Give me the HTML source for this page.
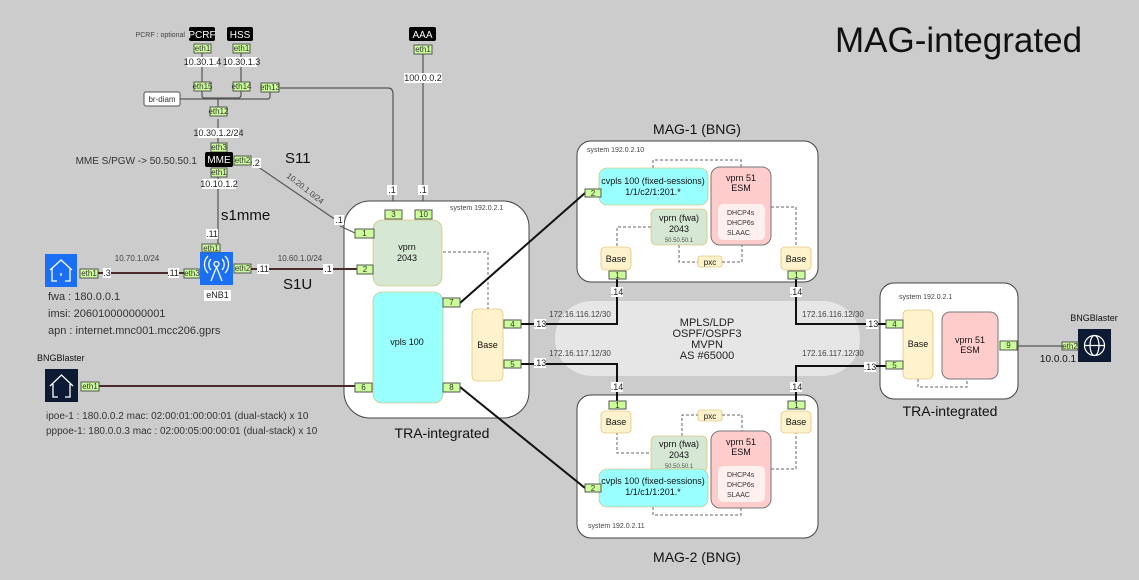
<!DOCTYPE html>
<html><head><meta charset="utf-8"><style>
html,body{margin:0;padding:0;background:#cccccc;}
svg{display:block;font-family:"Liberation Sans",sans-serif;}
.p{fill:#ccff99;stroke:#555;stroke-width:1;}
.pt{font-size:8px;fill:#333;text-anchor:middle;}
.lb{fill:#fff;}
.lt{font-size:9px;fill:#222;text-anchor:middle;}
.d{fill:none;stroke:#666;stroke-width:1;stroke-dasharray:3,2;}
.br{stroke:#4a2a2a;stroke-width:2;fill:none;}
.bk{stroke:#111;stroke-width:2;fill:none;}
.gl{stroke:#555;stroke-width:1.2;fill:none;}
</style></head><body>
<svg width="1139" height="580" viewBox="0 0 1139 580" xmlns="http://www.w3.org/2000/svg">
<rect width="1139" height="580" fill="#cccccc"/>
<text x="835" y="52" font-size="35" fill="#111">MAG-integrated</text>

<!-- cloud -->
<rect x="555" y="301" width="305" height="75" rx="37" fill="#e6e6e6"/>
<g font-size="11" fill="#222" text-anchor="middle">
<text x="707" y="326">MPLS/LDP</text><text x="707" y="337">OSPF/OSPF3</text><text x="707" y="348">MVPN</text><text x="707" y="359">AS #65000</text></g>

<!-- top connections -->
<path class="gl" d="M202,53 V90 M241,53 V90 M202,90 V96 Q202,98 205,98 H238 Q241,98 241,95 V90 M144,99 H268 Q270,99 270,96 V90 M218,99 V111 M218,119 V147 M218,176 V245"/>
<path class="gl" d="M280,88 H388 Q393,88 393,94 V210"/>
<path class="gl" d="M423,53 V210"/>
<path class="gl" d="M251,162 L355,233"/>

<!-- PCRF HSS AAA -->
<text x="185" y="37" font-size="7" fill="#444" text-anchor="end">PCRF : optional</text>
<rect x="189" y="27" width="26" height="14" rx="2" fill="#000"/><text x="202" y="38" font-size="10" fill="#fff" text-anchor="middle">PCRF</text>
<rect x="227" y="27" width="26" height="14" rx="2" fill="#000"/><text x="240" y="38" font-size="10" fill="#fff" text-anchor="middle">HSS</text>
<rect x="409" y="27" width="27" height="14" rx="2" fill="#000"/><text x="422.5" y="38" font-size="10" fill="#fff" text-anchor="middle">AAA</text>
<rect class="p" x="194" y="44" width="17" height="9"/><text class="pt" x="202.5" y="51">eth1</text>
<rect class="p" x="233" y="44" width="17" height="9"/><text class="pt" x="241.5" y="51">eth1</text>
<rect class="p" x="414" y="45" width="18" height="9"/><text class="pt" x="423" y="52">eth1</text>
<rect class="lb" x="187" y="57" width="31" height="10"/><text class="lt" x="202.5" y="65">10.30.1.4</text>
<rect class="lb" x="226" y="57" width="31" height="10"/><text class="lt" x="241.5" y="65">10.30.1.3</text>
<rect class="lb" x="404" y="73" width="38" height="10"/><text class="lt" x="423" y="81">100.0.0.2</text>
<rect class="p" x="194" y="82" width="17" height="9"/><text class="pt" x="202.5" y="89">eth15</text>
<rect class="p" x="233" y="82" width="17" height="9"/><text class="pt" x="241.5" y="89">eth14</text>
<rect class="p" x="261" y="83" width="18" height="9"/><text class="pt" x="270" y="90">eth13</text>
<rect x="144" y="92" width="36" height="14" rx="2" fill="#fff" stroke="#555"/><text x="162" y="102" font-size="8" fill="#333" text-anchor="middle">br-diam</text>
<rect class="p" x="210" y="107" width="17" height="9"/><text class="pt" x="218.5" y="114">eth12</text>
<rect class="lb" x="198" y="128" width="41" height="10"/><text class="lt" x="218.5" y="136">10.30.1.2/24</text>
<rect class="p" x="211" y="143" width="16" height="9"/><text class="pt" x="219" y="150">eth3</text>
<rect x="205" y="152" width="28" height="15" rx="2" fill="#000"/><text x="219" y="163" font-size="10" fill="#fff" text-anchor="middle">MME</text>
<rect class="p" x="234" y="156" width="17" height="9"/><text class="pt" x="242.5" y="163">eth2</text>
<rect class="lb" x="252" y="158" width="9" height="10"/><text class="lt" x="256" y="166">.2</text>
<rect class="p" x="211" y="168" width="16" height="9"/><text class="pt" x="219" y="175">eth1</text>
<rect class="lb" x="202" y="179" width="34" height="10"/><text class="lt" x="219" y="187">10.10.1.2</text>
<text x="197" y="164" font-size="10" fill="#333" text-anchor="end">MME S/PGW -&gt; 50.50.50.1</text>
<text x="285" y="163" font-size="15" fill="#111">S11</text>
<text x="285" y="180" font-size="8" fill="#444" transform="rotate(38 290 180)">10.20.1.0/24</text>
<text x="221" y="220" font-size="15" fill="#111">s1mme</text>
<rect class="lb" x="387" y="185" width="10" height="10"/><text class="lt" x="392" y="193">.1</text>
<rect class="lb" x="418" y="185" width="10" height="10"/><text class="lt" x="423" y="193">.1</text>

<!-- fwa / eNB -->
<rect x="45" y="254" width="32" height="33" fill="#1a6ff5"/>
<path d="M50,270 L61,260 L72,270 M52,268 V281 H57 M70,268 V281 H65 M61,273 V276" stroke="#fff" stroke-width="1.3" fill="none"/>
<rect class="p" x="80" y="269" width="18" height="9"/><text class="pt" x="89" y="276">eth1</text>
<text x="137" y="261" font-size="8" fill="#444" text-anchor="middle">10.70.1.0/24</text>
<rect class="p" x="184" y="269" width="16" height="9"/><text class="pt" x="192" y="276">eth3</text>
<rect x="200" y="252" width="33" height="33" fill="#1a6ff5"/>
<g stroke="#fff" stroke-width="1.3" fill="none"><circle cx="216.5" cy="264" r="2.5"/><path d="M211,259 A8,8 0 0,0 211,270 M222,259 A8,8 0 0,1 222,270 M208,256 A12,12 0 0,0 208,273 M225,256 A12,12 0 0,1 225,273 M216.5,267 L211,281 M216.5,267 L222,281"/></g>
<rect class="p" x="202" y="244" width="18" height="8"/><text class="pt" x="211" y="251">eth1</text>
<rect class="lb" x="206" y="229" width="12" height="10"/><text class="lt" x="212" y="237">.11</text>
<rect class="p" x="234" y="264" width="17" height="9"/><text class="pt" x="242.5" y="271">eth2</text>
<text x="300" y="261" font-size="8" fill="#444" text-anchor="middle">10.60.1.0/24</text>
<text x="283" y="289" font-size="15" fill="#111">S1U</text>
<rect class="lb" x="204" y="290" width="27" height="11"/><text x="217.5" y="298" font-size="9" fill="#222" text-anchor="middle">eNB1</text>
<g font-size="11" fill="#333"><text x="48" y="300">fwa :  180.0.0.1</text><text x="48" y="317">imsi: 206010000000001</text><text x="48" y="334">apn : internet.mnc001.mcc206.gprs</text></g>

<!-- BNGBlaster left -->
<text x="37" y="361" font-size="9" fill="#111">BNGBlaster</text>
<rect x="45" y="369" width="33" height="33" fill="#0d1a33"/>
<path d="M50,386 L61.5,375 L73,386 M53,384 V397 H58 M70,384 V397 H65" stroke="#fff" stroke-width="1.3" fill="none"/>
<rect class="p" x="81" y="382" width="18" height="9"/><text class="pt" x="90" y="389">eth1</text>
<g font-size="10" fill="#333"><text x="46" y="419">ipoe-1    : 180.0.0.2  mac: 02:00:01:00:00:01 (dual-stack)  x 10</text><text x="46" y="434">pppoe-1: 180.0.0.3  mac : 02:00:05:00:00:01 (dual-stack) x 10</text></g>

<!-- TRA left -->
<rect x="344" y="201" width="185" height="217" rx="26" fill="#fff" stroke="#444"/>
<text x="450" y="210" font-size="7" fill="#444">system 192.0.2.1</text>
<rect x="373" y="220" width="69" height="66" rx="9" fill="#d5e8d4" stroke="#d6b656" stroke-width="0.6"/>
<text x="407" y="250" font-size="9" text-anchor="middle" fill="#111">vprn</text><text x="407" y="261" font-size="9" text-anchor="middle" fill="#111">2043</text>
<rect x="373" y="292" width="70" height="111" rx="9" fill="#99ffff" stroke="#d6b656" stroke-width="0.6"/>
<text x="407" y="345" font-size="9" text-anchor="middle" fill="#111">vpls 100</text>
<rect x="472" y="309" width="31" height="72" rx="5" fill="#fff2cc" stroke="#d6b656" stroke-width="0.6"/>
<text x="487.5" y="348" font-size="9" text-anchor="middle" fill="#111">Base</text>
<path class="d" d="M443,252 H488 V309"/>
<text x="442" y="438" font-size="14" fill="#111" text-anchor="middle">TRA-integrated</text>

<!-- MAG-1 -->
<text x="697" y="134" font-size="14" fill="#111" text-anchor="middle">MAG-1 (BNG)</text>
<rect x="577" y="141" width="241" height="141" rx="14" fill="#fff" stroke="#444"/>
<text x="587" y="152" font-size="7" fill="#444">system 192.0.2.10</text>
<path class="d" d="M653,168 V160 H741 V167 M651,227 H617 V247 M679,245 V262 H698 M722,262 H742 V245 M771,207 H796 V247"/>
<rect x="599" y="168" width="109" height="37" rx="8" fill="#99ffff" stroke="#d6b656" stroke-width="0.6"/>
<text x="653" y="184" font-size="9" text-anchor="middle" fill="#111">cvpls 100 (fixed-sessions)</text><text x="653" y="195" font-size="9" text-anchor="middle" fill="#111">1/1/c2/1:201.*</text>
<rect x="711" y="167" width="60" height="78" rx="9" fill="#ffcccc" stroke="#777"/>
<text x="741" y="181" font-size="9" text-anchor="middle" fill="#111">vprn 51</text><text x="741" y="191" font-size="9" text-anchor="middle" fill="#111">ESM</text>
<rect x="718" y="204" width="47" height="36" rx="5" fill="#fff0f0"/>
<g font-size="7" fill="#333"><text x="727" y="215">DHCP4s</text><text x="727" y="225">DHCP6s</text><text x="727" y="235">SLAAC</text></g>
<rect x="651" y="209" width="56" height="36" rx="5" fill="#d5e8d4" stroke="#d6b656" stroke-width="0.6"/>
<text x="679" y="221" font-size="9" text-anchor="middle" fill="#111">vprn (fwa)</text><text x="679" y="232" font-size="9" text-anchor="middle" fill="#111">2043</text><text x="679" y="242" font-size="6" text-anchor="middle" fill="#555">50.50.50.1</text>
<rect x="601" y="247" width="30" height="23" rx="4" fill="#fff2cc" stroke="#d6b656" stroke-width="0.6"/><text x="616" y="262" font-size="9" text-anchor="middle" fill="#111">Base</text>
<rect x="781" y="247" width="30" height="23" rx="4" fill="#fff2cc" stroke="#d6b656" stroke-width="0.6"/><text x="796" y="262" font-size="9" text-anchor="middle" fill="#111">Base</text>
<rect x="698" y="256" width="24" height="11" rx="2" fill="#fff2cc" stroke="#d6b656" stroke-width="0.6"/><text x="710" y="265" font-size="8" text-anchor="middle" fill="#111">pxc</text>

<!-- MAG-2 -->
<rect x="577" y="395" width="241" height="143" rx="14" fill="#fff" stroke="#444"/>
<path class="d" d="M617,432 V453 H651 M682,436 V415 H698 M722,415 H742 V431 M771,469 H796 V432 M653,507 V515 H741 V508"/>
<rect x="601" y="411" width="30" height="22" rx="4" fill="#fff2cc" stroke="#d6b656" stroke-width="0.6"/><text x="616" y="425" font-size="9" text-anchor="middle" fill="#111">Base</text>
<rect x="781" y="411" width="30" height="22" rx="4" fill="#fff2cc" stroke="#d6b656" stroke-width="0.6"/><text x="796" y="425" font-size="9" text-anchor="middle" fill="#111">Base</text>
<rect x="698" y="410" width="24" height="11" rx="2" fill="#fff2cc" stroke="#d6b656" stroke-width="0.6"/><text x="710" y="419" font-size="8" text-anchor="middle" fill="#111">pxc</text>
<rect x="651" y="436" width="56" height="36" rx="5" fill="#d5e8d4" stroke="#d6b656" stroke-width="0.6"/>
<text x="679" y="447" font-size="9" text-anchor="middle" fill="#111">vprn (fwa)</text><text x="679" y="458" font-size="9" text-anchor="middle" fill="#111">2043</text><text x="679" y="468" font-size="6" text-anchor="middle" fill="#555">50.50.50.1</text>
<rect x="711" y="431" width="60" height="77" rx="9" fill="#ffcccc" stroke="#777"/>
<text x="741" y="445" font-size="9" text-anchor="middle" fill="#111">vprn 51</text><text x="741" y="455" font-size="9" text-anchor="middle" fill="#111">ESM</text>
<rect x="718" y="466" width="47" height="36" rx="5" fill="#fff0f0"/>
<g font-size="7" fill="#333"><text x="727" y="477">DHCP4s</text><text x="727" y="487">DHCP6s</text><text x="727" y="497">SLAAC</text></g>
<rect x="599" y="469" width="109" height="38" rx="8" fill="#99ffff" stroke="#d6b656" stroke-width="0.6"/>
<text x="653" y="484" font-size="9" text-anchor="middle" fill="#111">cvpls 100 (fixed-sessions)</text><text x="653" y="495" font-size="9" text-anchor="middle" fill="#111">1/1/c1/1:201.*</text>
<text x="588" y="528" font-size="7" fill="#444">system 192.0.2.11</text>
<text x="697" y="562" font-size="14" fill="#111" text-anchor="middle">MAG-2 (BNG)</text>

<!-- TRA right -->
<rect x="880" y="283" width="138" height="116" rx="14" fill="#fff" stroke="#444"/>
<text x="899" y="299" font-size="7" fill="#444">system 192.0.2.1</text>
<rect x="903" y="310" width="30" height="69" rx="5" fill="#fff2cc" stroke="#d6b656" stroke-width="0.6"/><text x="918" y="347" font-size="9" text-anchor="middle" fill="#111">Base</text>
<rect x="942" y="312" width="56" height="67" rx="8" fill="#ffcccc" stroke="#777"/><text x="970" y="343" font-size="9" text-anchor="middle" fill="#111">vprn 51</text><text x="970" y="353" font-size="9" text-anchor="middle" fill="#111">ESM</text>
<path class="d" d="M918,379 V387 H967 V379"/>
<text x="950" y="416" font-size="14" fill="#111" text-anchor="middle">TRA-integrated</text>
<rect x="1078" y="329" width="33" height="33" fill="#0d1a33"/>
<g stroke="#fff" stroke-width="1.2" fill="none"><circle cx="1094.5" cy="345.5" r="10"/><ellipse cx="1094.5" cy="345.5" rx="4.5" ry="10"/><path d="M1084.5,345.5 H1104.5"/></g>
<text x="1094" y="321" font-size="9" fill="#111" text-anchor="middle">BNGBlaster</text>
<text x="1058" y="362" font-size="10" fill="#111" text-anchor="middle">10.0.0.1</text>

<!-- LINKS (on top) -->
<path class="br" d="M98,273 H184 M251,269 H357 M99,386 H355"/>
<path class="bk" d="M460,303 L585,193 M460,387 L585,488"/>
<path class="bk" d="M521,324 H617 V279 M521,364 H617 V401 M886,324 H796 V279 M886,366 H796 V401"/>
<path class="gl" d="M1017,346 H1062" stroke="#444"/>
<path class="gl" d="M340,226 L355,233"/>

<!-- ports -->
<rect class="p" x="385" y="210" width="17" height="9"/><text class="pt" x="393.5" y="217">3</text>
<rect class="p" x="415" y="210" width="17" height="9"/><text class="pt" x="423.5" y="217">10</text>
<rect class="p" x="355" y="229" width="19" height="9"/><text class="pt" x="364.5" y="236">1</text>
<rect class="p" x="357" y="265" width="16" height="9"/><text class="pt" x="365" y="272">2</text>
<rect class="p" x="355" y="383" width="17" height="9"/><text class="pt" x="363.5" y="390">6</text>
<rect class="p" x="443" y="298" width="17" height="9"/><text class="pt" x="451.5" y="305">7</text>
<rect class="p" x="443" y="383" width="17" height="9"/><text class="pt" x="451.5" y="390">8</text>
<rect class="p" x="504" y="320" width="17" height="8"/><text class="pt" x="512.5" y="327">4</text>
<rect class="p" x="504" y="360" width="17" height="8"/><text class="pt" x="512.5" y="367">5</text>
<rect class="p" x="585" y="189" width="16" height="8"/><text class="pt" x="593" y="196">2</text>
<rect class="p" x="609" y="271" width="17" height="8"/><text class="pt" x="617.5" y="278">1</text>
<rect class="p" x="788" y="271" width="17" height="8"/><text class="pt" x="796.5" y="278">1</text>
<rect class="p" x="585" y="484" width="16" height="8"/><text class="pt" x="593" y="491">2</text>
<rect class="p" x="609" y="401" width="17" height="8"/><text class="pt" x="617.5" y="408">1</text>
<rect class="p" x="788" y="401" width="17" height="8"/><text class="pt" x="796.5" y="408">1</text>
<rect class="p" x="886" y="320" width="17" height="8"/><text class="pt" x="894.5" y="327">4</text>
<rect class="p" x="886" y="361" width="17" height="8"/><text class="pt" x="894.5" y="368">5</text>
<rect class="p" x="1000" y="341" width="17" height="9"/><text class="pt" x="1008.5" y="348">9</text>
<rect class="p" x="1062" y="342" width="16" height="8"/><text class="pt" x="1070" y="349">eth2</text>

<!-- link labels -->
<rect class="lb" x="103" y="268" width="8" height="10"/><text class="lt" x="107" y="276">.3</text>
<rect class="lb" x="168" y="268" width="11" height="10"/><text class="lt" x="173" y="276">.11</text>
<rect class="lb" x="257" y="264" width="12" height="10"/><text class="lt" x="263" y="272">.11</text>
<rect class="lb" x="323" y="264" width="10" height="10"/><text class="lt" x="328" y="272">.1</text>
<rect class="lb" x="334" y="215" width="10" height="10"/><text class="lt" x="339" y="223">.1</text>
<rect class="lb" x="534" y="319" width="12" height="10"/><text class="lt" x="540" y="327">.13</text>
<rect class="lb" x="534" y="358" width="12" height="10"/><text class="lt" x="540" y="366">.13</text>
<text x="580" y="317" font-size="8" fill="#444" text-anchor="middle">172.16.116.12/30</text>
<text x="580" y="356" font-size="8" fill="#444" text-anchor="middle">172.16.117.12/30</text>
<text x="833" y="317" font-size="8" fill="#444" text-anchor="middle">172.16.116.12/30</text>
<text x="833" y="356" font-size="8" fill="#444" text-anchor="middle">172.16.117.12/30</text>
<rect class="lb" x="611" y="287" width="12" height="10"/><text class="lt" x="617" y="295">.14</text>
<rect class="lb" x="790" y="287" width="12" height="10"/><text class="lt" x="796" y="295">.14</text>
<rect class="lb" x="611" y="382" width="12" height="10"/><text class="lt" x="617" y="390">.14</text>
<rect class="lb" x="790" y="382" width="12" height="10"/><text class="lt" x="796" y="390">.14</text>
<rect class="lb" x="866" y="319" width="12" height="10"/><text class="lt" x="872" y="327">.13</text>
<rect class="lb" x="864" y="362" width="12" height="10"/><text class="lt" x="870" y="370">.13</text>
</svg>
</body></html>
